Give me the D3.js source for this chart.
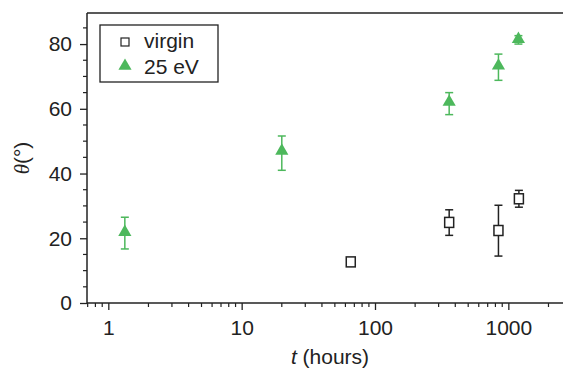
<!DOCTYPE html>
<html><head><meta charset="utf-8">
<script src="https://cdn.jsdelivr.net/npm/d3@7"></script>
<style>body{margin:0;background:#fff}svg{display:block}text{font-family:"Liberation Sans",Arial,sans-serif;fill:#222}</style>
</head><body>
<svg id="c" width="563" height="371"></svg>
<script>
const virginT = [65.8, 360, 843, 1200];
const virginTheta = [12.7, 24.9, 22.4, 32.2];
const virginLo = [11.8, 20.9, 14.5, 29.6];
const virginHi = [13.6, 28.8, 30.2, 34.8];

const evT = [1.33, 20, 360, 843, 1190];
const evTheta = [21.6, 46.7, 61.8, 73.0, 81.2];
const evLo = [16.7, 41.0, 58.2, 68.8, 80.0];
const evHi = [26.5, 51.6, 65.0, 76.9, 82.6];

const xTicks = [1, 10, 100, 1000];
const yTicks = [0, 20, 40, 60, 80];
const legendLabels = ["virgin", "25 eV"];

const green = "#4db85c";
const svg = d3.select("#c");
const L = 87, R = 563, T = 13, B = 303;
const FS = 21;
const x = d3.scaleLog().domain([0.692, 2570]).range([L, R]);
const y = d3.scaleLinear().domain([0, 89.6]).range([B, T]);

// minor ticks
const xMinor = [];
for (let e = -1; e <= 3; e++) for (let m = 2; m <= 9; m++) { const v = m * Math.pow(10, e); if (v > 0.692 && v < 2570) xMinor.push(v); }
const xa = svg.append("g").attr("transform", `translate(0,${B})`);
xa.selectAll("line.mn").data(xMinor).join("line").attr("x1", d => x(d)).attr("x2", d => x(d)).attr("y1", 0).attr("y2", 4).attr("stroke", "#222").attr("stroke-width", 1.2);
xa.call(d3.axisBottom(x).tickValues(xTicks).tickFormat(d3.format("d")).tickSize(7).tickPadding(10));
const yMinor = d3.range(5, 90, 5).filter(v => v % 20 !== 0);
const ya = svg.append("g").attr("transform", `translate(${L},0)`);
ya.selectAll("line.mn").data(yMinor).join("line").attr("x1", -4).attr("x2", 0).attr("y1", d => y(d)).attr("y2", d => y(d)).attr("stroke", "#222").attr("stroke-width", 1.2);
ya.call(d3.axisLeft(y).tickValues(yTicks).tickSize(7).tickPadding(8));
[xa, ya].forEach(g => {
  g.select(".domain").remove();
  g.selectAll(".tick line").attr("stroke", "#222").attr("stroke-width", 1.3);
  g.selectAll(".tick text").attr("font-size", FS).attr("fill", "#222").style("font-family", '"Liberation Sans",Arial,sans-serif');
});
svg.append("line").attr("x1", L).attr("x2", R).attr("y1", B).attr("y2", B).attr("stroke", "#222").attr("stroke-width", 1.5);
svg.append("line").attr("x1", L).attr("x2", L).attr("y1", T).attr("y2", B).attr("stroke", "#222").attr("stroke-width", 1.5);
svg.append("line").attr("x1", L).attr("x2", R).attr("y1", T).attr("y2", T).attr("stroke", "#222").attr("stroke-width", 1.5);

// labels
svg.append("text").attr("x", 330).attr("y", 364).attr("text-anchor", "middle").attr("font-size", FS)
  .html('<tspan font-style="italic">t</tspan> (hours)');
svg.append("text").attr("transform", "translate(29,158) rotate(-90)").attr("text-anchor", "middle").attr("font-size", FS)
  .html('<tspan font-style="italic" font-family="Liberation Serif, serif">θ</tspan>(°)');

function errbars(ts, lo, hi, color, w) {
  const g = svg.append("g").attr("stroke", color).attr("stroke-width", 1.5);
  ts.forEach((t, i) => {
    const cx = x(t);
    g.append("line").attr("x1", cx).attr("x2", cx).attr("y1", y(lo[i])).attr("y2", y(hi[i]));
    g.append("line").attr("x1", cx - w).attr("x2", cx + w).attr("y1", y(lo[i])).attr("y2", y(lo[i]));
    g.append("line").attr("x1", cx - w).attr("x2", cx + w).attr("y1", y(hi[i])).attr("y2", y(hi[i]));
  });
}
errbars(evT, evLo, evHi, green, 4);
errbars(virginT, virginLo, virginHi, "#222", 4);

const tri = d3.symbol().type(d3.symbolTriangle).size(75);
svg.append("g").selectAll("path").data(evT).join("path")
  .attr("d", tri).attr("fill", green)
  .attr("transform", (d, i) => `translate(${x(d)},${y(evTheta[i]) - 1})`);
svg.append("g").selectAll("rect").data(virginT).join("rect")
  .attr("x", d => x(d) - 4.5).attr("y", (d, i) => y(virginTheta[i]) - 5)
  .attr("width", 9).attr("height", 10).attr("fill", "#fff").attr("stroke", "#222").attr("stroke-width", 1.5);

// legend
const lg = svg.append("g");
lg.append("rect").attr("x", 100).attr("y", 25).attr("width", 118).attr("height", 57).attr("fill", "#fff").attr("stroke", "#222").attr("stroke-width", 1.3);
lg.append("rect").attr("x", 121).attr("y", 38).attr("width", 8).attr("height", 8).attr("fill", "#fff").attr("stroke", "#222").attr("stroke-width", 1.2);
lg.append("path").attr("d", tri).attr("fill", green).attr("transform", "translate(125,66)");
lg.selectAll("text").data(legendLabels).join("text").attr("x", 144).attr("y", (d, i) => 48 + i * 26).attr("font-size", FS).text(d => d);
</script>
</body></html>
